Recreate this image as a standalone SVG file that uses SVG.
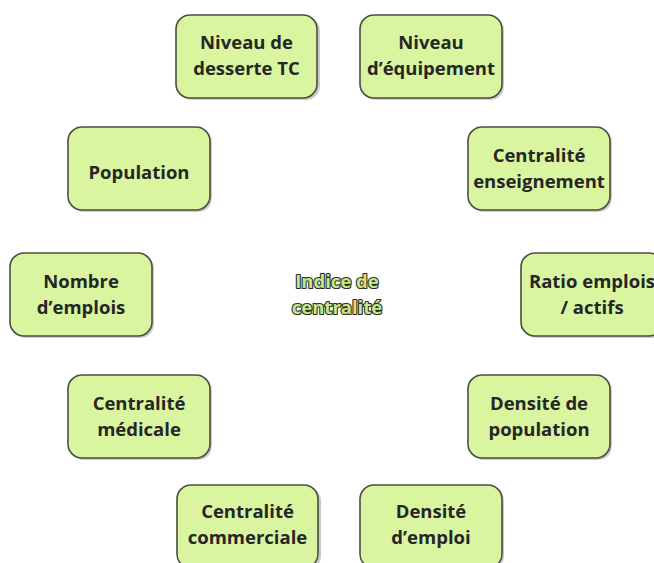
<svg xmlns="http://www.w3.org/2000/svg" width="654" height="563" viewBox="0 0 654 563">
<defs>
<style>
.box{fill:#d9f5a0;stroke:#4a4d40;stroke-width:1.6}
.sh{fill:#8a8a8a;opacity:0.45}
.t{font-family:"Open Sans","Liberation Sans",sans-serif;font-weight:bold;font-size:18.5px;fill:#262626;text-anchor:middle}
.c{font-family:"Open Sans","Liberation Sans",sans-serif;font-weight:bold;font-size:18.5px;fill:#c6e68a;stroke:#2a2e22;stroke-width:2.2;stroke-linejoin:round;paint-order:stroke;text-anchor:middle}
</style>
</defs>
<rect width="654" height="563" fill="#ffffff"/>

<g id="n-desserte">
<rect class="sh" x="178" y="17" width="142" height="83" rx="14"/>
<rect class="box" x="176" y="15" width="141" height="83" rx="14"/>
<text class="t" x="246.5" y="49">Niveau de</text>
<text class="t" x="246.5" y="75">desserte TC</text>
</g>

<g id="n-equipement">
<rect class="sh" x="362" y="17" width="142" height="83" rx="14"/>
<rect class="box" x="360" y="15" width="142" height="83" rx="14"/>
<text class="t" x="431" y="49">Niveau</text>
<text class="t" x="431" y="75">d’équipement</text>
</g>

<g id="n-population">
<rect class="sh" x="70" y="129" width="142" height="83" rx="14"/>
<rect class="box" x="68" y="127" width="142" height="83" rx="14"/>
<text class="t" x="139" y="179">Population</text>
</g>

<g id="n-enseignement">
<rect class="sh" x="470" y="129" width="142" height="83" rx="14"/>
<rect class="box" x="468" y="127" width="142" height="83" rx="14"/>
<text class="t" x="539" y="162">Centralité</text>
<text class="t" x="539" y="188">enseignement</text>
</g>

<g id="n-emplois">
<rect class="sh" x="12" y="255" width="142" height="83" rx="14"/>
<rect class="box" x="10" y="253" width="142" height="83" rx="14"/>
<text class="t" x="81" y="288">Nombre</text>
<text class="t" x="81" y="314">d’emplois</text>
</g>

<g id="n-ratio">
<rect class="sh" x="523" y="255" width="142" height="83" rx="14"/>
<rect class="box" x="521" y="253" width="142" height="83" rx="14"/>
<text class="t" x="592" y="288">Ratio emplois</text>
<text class="t" x="592" y="314">/ actifs</text>
</g>

<g id="n-medicale">
<rect class="sh" x="70" y="377" width="142" height="83" rx="14"/>
<rect class="box" x="68" y="375" width="142" height="83" rx="14"/>
<text class="t" x="139" y="410">Centralité</text>
<text class="t" x="139" y="436">médicale</text>
</g>

<g id="n-densite-pop">
<rect class="sh" x="470" y="377" width="142" height="83" rx="14"/>
<rect class="box" x="468" y="375" width="142" height="83" rx="14"/>
<text class="t" x="539" y="410">Densité de</text>
<text class="t" x="539" y="436">population</text>
</g>

<g id="n-commerciale">
<rect class="sh" x="179" y="487" width="142" height="83" rx="14"/>
<rect class="box" x="177" y="485" width="141" height="83" rx="14"/>
<text class="t" x="247.5" y="518">Centralité</text>
<text class="t" x="247.5" y="544">commerciale</text>
</g>

<g id="n-densite-emploi">
<rect class="sh" x="362" y="487" width="142" height="83" rx="14"/>
<rect class="box" x="360" y="485" width="142" height="83" rx="14"/>
<text class="t" x="431" y="518">Densité</text>
<text class="t" x="431" y="544">d’emploi</text>
</g>

<g id="n-centre">
<text class="c" x="337" y="288">Indice de</text>
<text class="c" x="337" y="314">centralité</text>
</g>
</svg>
